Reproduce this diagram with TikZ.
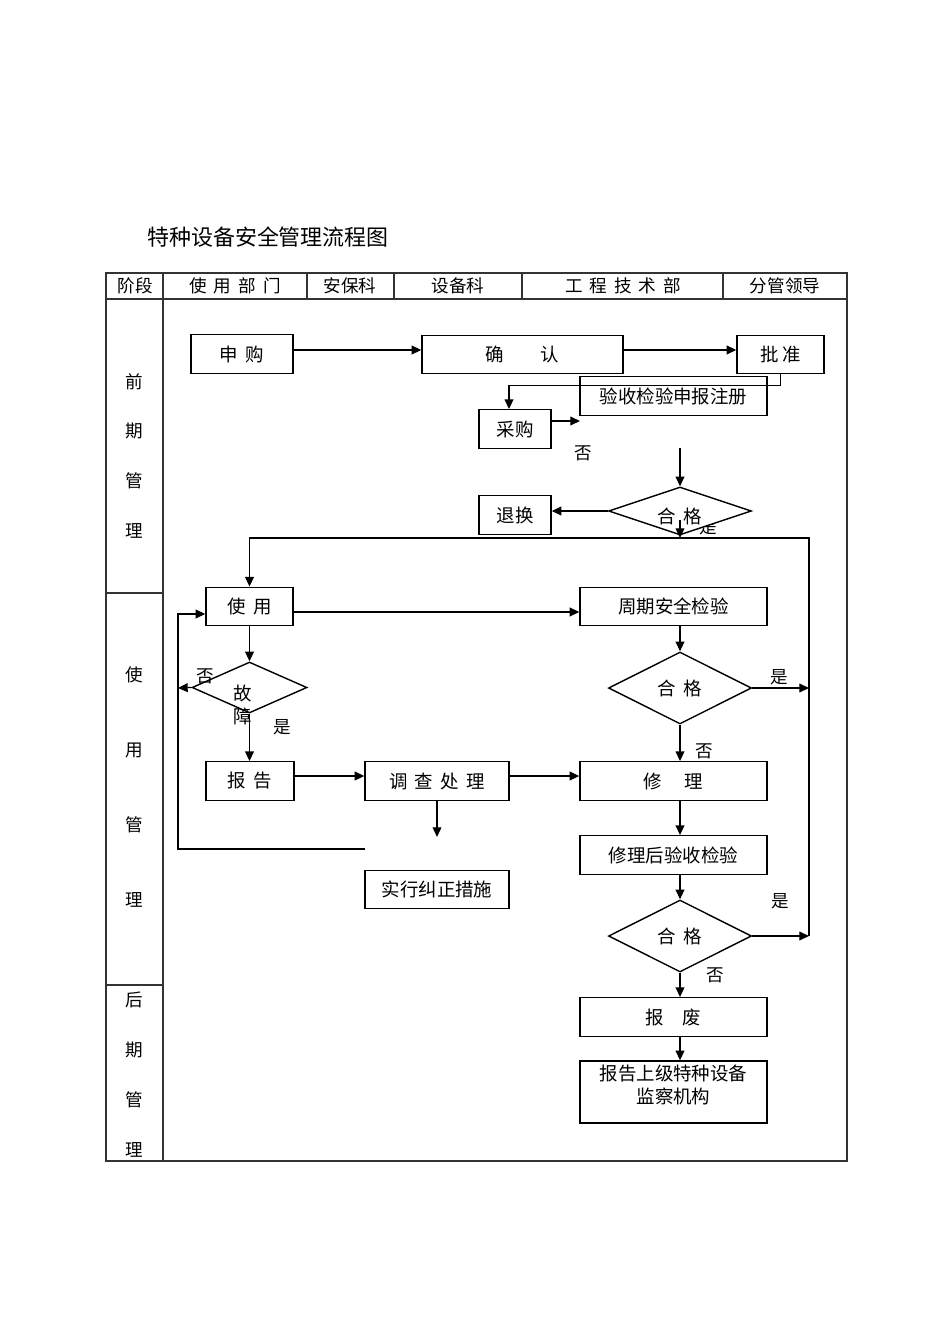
\documentclass[tikz,border=0pt]{standalone}
\usepackage{fontspec}
\setmainfont{Noto Sans CJK SC}
\usetikzlibrary{arrows.meta,shapes.geometric}
\newcommand{\cjkgap}{\hspace{0.4em}}

\begin{document}
\begin{tikzpicture}[
    x=0.02cm,
    y=-0.02cm,
    font=\fontsize{10.5}{13}\selectfont,
    box/.style={draw=black,line width=0.8pt,minimum width=3.74cm,minimum height=0.77cm,inner sep=1pt,align=center},
    check/.style={diamond,draw=black,fill=white,line width=0.8pt,aspect=2,inner sep=0pt,minimum width=2.86cm,minimum height=1.44cm},
    flow/.style={-{Triangle[length=5.5pt,width=5pt]},draw=black,line width=0.7pt},
    grid/.style={draw=black!80,line width=0.6pt},
    head/.style={font=\fontsize{10}{12}\selectfont},
    answer/.style={font=\fontsize{10}{12}\selectfont,inner sep=0pt}
  ]
    \useasboundingbox (0,0) rectangle (950,1344);

    \node[anchor=west,font=\fontsize{12.5}{15}\selectfont] (title) at (141,237) {特种设备安全管理流程图};

    % table frame
    \draw[grid] (106,273) rectangle (847,1161);
    \draw[grid] (106,299) -- (847,299);
    \draw[grid] (163,273) -- (163,1161);
    \foreach \x in {307,394,522,723} {
      \draw[grid] (\x,273) -- (\x,299);
    }
    \foreach \y in {593,985} {
      \draw[grid] (106,\y) -- (163,\y);
    }

    \node[head] (hstage) at (135,286) {阶段};
    \node[head] (huser) at (235,286) {使\cjkgap 用\cjkgap 部\cjkgap 门};
    \node[head] (hsafety) at (350,286) {安保科};
    \node[head] (hequip) at (458,286) {设备科};
    \node[head] (htech) at (623,286) {工\cjkgap 程\cjkgap 技\cjkgap 术\cjkgap 部};
    \node[head] (hlead) at (785,286) {分管领导};

    \foreach \c/\y in {前/382,期/431,管/481,理/531,使/675,用/750,管/825,理/900,后/1000,期/1050,管/1100,理/1150} {
      \node[head] (phase\y) at (134,\y) {\c};
    }

    % early stage
    \node[box,minimum width=2.04cm] (apply) at (242,354) {申\cjkgap 购};
    \node[box,minimum width=4.02cm] (confirm) at (522.5,354.5) {确\hspace{2em}认};
    \node[box,minimum width=1.74cm] (approve) at (780.5,354.5) {批\hspace{0.2em}准};
    \node[box] (register) at (673.5,396) {验收检验申报注册};
    \node[box,minimum width=1.44cm] (purchase) at (515,429) {采购};
    \node[box,minimum width=1.44cm] (exchange) at (515,515) {退换};

    \node[answer] (yes1) at (708,527) {是};
    \node[check,minimum height=0.96cm] (check1) at (680,511) {};
    \node (check1text) at (680,516) {合\cjkgap 格};
    \node[answer] (no1) at (583,453) {否};

    \coordinate (purchaseend) at (580,421);
    \coordinate (registerout) at (680,448);
    \coordinate (loopright) at (809,538);
    \coordinate (loopbottom) at (809,936);

    \draw[flow] (apply.east |- 0,350) -- (confirm.west |- 0,350);
    \draw[flow] (confirm.east |- 0,350) -- (approve.west |- 0,350);
    \draw[flow] (approve.south) -- ++(0,11) -| ([xshift=-0.12cm]purchase.north);
    \draw[flow] (purchase.east |- purchaseend) -- (purchaseend);
    \draw[flow] (registerout) -- (check1.north);
    \draw[flow] (check1.west) -- (check1.west -| exchange.east);
    \draw[flow] ([yshift=-0.18cm]check1.center) -- (check1.center |- loopright);

    % use stage
    \node[box,minimum width=1.74cm] (use) at (249.5,606.5) {使\cjkgap 用};
    \node[box] (periodic) at (673.5,606.5) {周期安全检验};
    \node[check] (check2) at (680,688) {合\cjkgap 格};
    \node[check,minimum width=2.30cm,minimum height=1.02cm] (fault) at (249.5,687.5) {};
    \node[align=center] (faulttext) at (243,705) {故\\障};
    \node[box,minimum width=1.76cm] (report) at (250,781) {报\cjkgap 告};
    \node[box,minimum width=2.88cm] (investigate) at (437,781) {调\cjkgap 查\cjkgap 处\cjkgap 理};
    \node[box] (repair) at (673.5,781) {修\hspace{1.2em}理};
    \node[box,minimum width=2.88cm] (correct) at (437,889.5) {实行纠正措施};
    \node[box] (recheck) at (673.5,855) {修理后验收检验};
    \node[check] (check3) at (680,936) {合\cjkgap 格};

    \node[answer] (no2) at (205,676) {否};
    \node[answer] (yes2) at (282,727) {是};
    \node[answer] (yes3) at (779,677) {是};
    \node[answer] (no3) at (704,751) {否};
    \node[answer] (yes4) at (780,901) {是};
    \node[answer] (no4) at (715,975) {否};

    \coordinate (leftend) at (178,688);
    \coordinate (leftbottom) at (178,849);
    \coordinate (returnstart) at (365,849);

    \draw[flow] (loopbottom) |- (use.north |- loopright) -- (use.north);
    \draw[flow] (check2.east) -- (check2.east -| loopright);
    \draw[flow] (check3.east) -- (loopbottom);
    \draw[flow] (use.east |- 0,612) -- (periodic.west |- 0,612);
    \draw[flow] (periodic.south -| check2) -- (check2.north);
    \draw[flow] (check2.south) -- (check2.south |- repair.north);
    \draw[flow] (use.south) -- (use.south |- fault.north);
    \draw[flow] (fault.west) -- (leftend);
    \draw[flow] (returnstart) -- (leftbottom) |- ([yshift=-0.15cm]use.west);
    \draw[flow] (fault.south) -- (fault.south |- report.north);
    \draw[flow] (report.east |- 0,776) -- (investigate.west |- 0,776);
    \draw[flow] (investigate.east |- 0,776) -- (repair.west |- 0,776);
    \draw[flow] (investigate.south) -- ++(0,36);
    \draw[flow] (repair.south -| check2) -- (recheck.north -| check2);
    \draw[flow] (recheck.south -| check3) -- (check3.north);

    % late stage
    \node[box] (scrap) at (673.5,1017) {报\hspace{1em}废};
    \node[box,minimum height=1.24cm,text depth=0.3cm] (notify) at (673.5,1092) {报告上级特种设备\\监察机构};

    \draw[flow] (check3.south) -- (check3.south |- scrap.north);
    \draw[flow] (scrap.south -| check3) -- (notify.north -| check3);
  \end{tikzpicture}
\end{document}
